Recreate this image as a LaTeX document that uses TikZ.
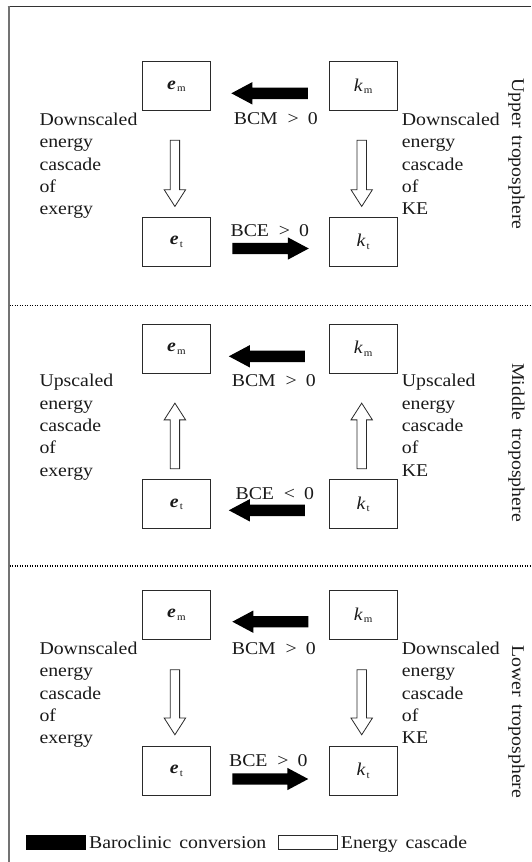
\documentclass[tikz,border=0pt]{standalone}
\usepackage{fontspec}
\setmainfont{Liberation Serif}[FakeStretch=1.1, WordSpace=1.6]
\usetikzlibrary{calc}
\definecolor{boxc}{HTML}{2A2A2A}
\definecolor{txtc}{HTML}{1A1A1A}
\newcommand\blackarrow[2]{%
  \fill[black] let \p1=#1, \p2=#2, \n1={ifthenelse(\x2>\x1,1,-1)} in
   (\x1,{\y1+5.7pt}) -- ({\x2-(\n1)*21pt},{\y1+5.7pt}) -- ({\x2-(\n1)*21pt},{\y1+11.2pt})
   -- (\x2,\y1) -- ({\x2-(\n1)*21pt},{\y1-11.2pt}) -- ({\x2-(\n1)*21pt},{\y1-5.7pt})
   -- (\x1,{\y1-5.7pt}) -- cycle;}
\newcommand\whitearrow[2]{%
  \draw[boxc, fill=white, line width=0.8pt, line join=miter] let \p1=#1, \p2=#2, \n1={ifthenelse(\y2>\y1,1,-1)} in
   ({\x1-4.7pt},\y1) -- ({\x1-4.7pt},{\y2-(\n1)*16.7pt}) -- ({\x1-10.7pt},{\y2-(\n1)*16.7pt})
   -- (\x1,\y2) -- ({\x1+10.7pt},{\y2-(\n1)*16.7pt}) -- ({\x1+4.7pt},{\y2-(\n1)*16.7pt})
   -- ({\x1+4.7pt},\y1) -- cycle;}
\newcommand\esym[1]{\textbf{\textit{e}}\hspace{1pt}\raisebox{-2.5pt}{\fontsize{10}{10}\selectfont #1}}
\newcommand\ksym[1]{\textit{k}\hspace{1pt}\raisebox{-2.5pt}{\fontsize{10}{10}\selectfont #1}}
\begin{document}
\begin{tikzpicture}[x=1pt, y=-1pt,
  every node/.style={text=txtc, font=\fontsize{18}{22.3}\selectfont},
  box/.style={draw=boxc, line width=0.9pt, minimum width=68pt, minimum height=49pt, inner sep=0pt},
  side/.style={anchor=north west, align=left, inner sep=0pt},
  lbl/.style={anchor=base, inner sep=0pt},
  layer/.style={rotate=-90, inner sep=0pt},
  sep/.style={line width=1.5pt, dash pattern=on 1.4pt off 1.1pt, black}]
\useasboundingbox (0,0) rectangle (531,862);
\draw[line width=1.5pt, black!80] (7.5,6.7) -- (531,6.7);
\draw[line width=2pt, black!55] (8.5,6) -- (8.5,862);
\draw[sep] (9.5,305.3) -- (531,305.3);
\draw[sep] (9.5,566) -- (531,566);

% ---------- Upper troposphere ----------
\node[box] (em1) at (176.4,86.3) {\esym{m}};
\node[box] (km1) at (363.2,86.3) {\ksym{m}};
\node[box] (et1) at (176.4,242) {\esym{t}};
\node[box] (kt1) at (363.2,242) {\ksym{t}};
\blackarrow{($(km1.west)+(-21,7)$)}{($(em1.east)+(20.5,7)$)}
\blackarrow{($(et1.east)+(21.5,6.5)$)}{($(kt1.west)+(-20,6.5)$)}
\whitearrow{($(em1.south)+(-1.5,29)$)}{($(et1.north)+(-1.5,-10.6)$)}
\whitearrow{($(km1.south)+(-1.5,29)$)}{($(kt1.north)+(-1.5,-10.6)$)}
\node[lbl] (bcm1) at ($(em1.south)!0.5!(km1.south)+(6,13.5)$) {BCM\hspace{0.55em}>\hspace{0.5em}0};
\node[lbl] (bce1) at ($(et1.east)!0.5!(kt1.west)+(0,-5.5)$) {BCE\hspace{0.55em}>\hspace{0.5em}0};
\node[side] (lt1) at ($(em1.south west)+(-102.6,1.7)$) {Downscaled\\energy\\cascade\\of\\exergy};
\node[side] (rt1) at ($(km1.south east)+(4,1.7)$) {Downscaled\\energy\\cascade\\of\\KE};
\node[layer] (up) at (516.4,154) {Upper troposphere};

% ---------- Middle troposphere ----------
\node[box] (em2) at (176.4,348.8) {\esym{m}};
\node[box] (km2) at (363.2,348.8) {\ksym{m}};
\node[box] (et2) at (176.4,504.3) {\esym{t}};
\node[box] (kt2) at (363.2,504.3) {\ksym{t}};
\blackarrow{($(km2.west)+(-24,7.5)$)}{($(em2.east)+(18,7.5)$)}
\blackarrow{($(kt2.west)+(-24,6)$)}{($(et2.east)+(18,6)$)}
\whitearrow{($(et2.north)+(-1.5,-10.7)$)}{($(em2.south)+(-1.5,29.4)$)}
\whitearrow{($(kt2.north)+(-1.5,-10.7)$)}{($(km2.south)+(-1.5,29.4)$)}
\node[lbl] (bcm2) at ($(em2.south)!0.5!(km2.south)+(4,12.7)$) {BCM\hspace{0.55em}>\hspace{0.5em}0};
\node[lbl] (bce2) at ($(et2.east)!0.5!(kt2.west)+(5,-5.3)$) {BCE\hspace{0.55em}<\hspace{0.5em}0};
\node[side] (lt2) at ($(em2.south west)+(-102.6,0.4)$) {Upscaled\\energy\\cascade\\of\\exergy};
\node[side] (rt2) at ($(km2.south east)+(4,0.4)$) {Upscaled\\energy\\cascade\\of\\KE};
\node[layer] (mid) at (516.4,442.5) {Middle troposphere};

% ---------- Lower troposphere ----------
\node[box] (em3) at (176.4,615) {\esym{m}};
\node[box] (km3) at (363.2,615) {\ksym{m}};
\node[box] (et3) at (176.4,770.7) {\esym{t}};
\node[box] (kt3) at (363.2,770.7) {\ksym{t}};
\blackarrow{($(km3.west)+(-20.5,6.7)$)}{($(em3.east)+(21.5,6.7)$)}
\blackarrow{($(et3.east)+(21.5,8.3)$)}{($(kt3.west)+(-20.5,8.3)$)}
\whitearrow{($(em3.south)+(-1.5,29.7)$)}{($(et3.north)+(-1.5,-11)$)}
\whitearrow{($(km3.south)+(-1.5,29.7)$)}{($(kt3.north)+(-1.5,-11)$)}
\node[lbl] (bcm3) at ($(em3.south)!0.5!(km3.south)+(4,14.2)$) {BCM\hspace{0.55em}>\hspace{0.5em}0};
\node[lbl] (bce3) at ($(et3.east)!0.5!(kt3.west)+(-1.5,-4.7)$) {BCE\hspace{0.55em}>\hspace{0.5em}0};
\node[side] (lt3) at ($(em3.south west)+(-102.6,1.9)$) {Downscaled\\energy\\cascade\\of\\exergy};
\node[side] (rt3) at ($(km3.south east)+(4,1.9)$) {Downscaled\\energy\\cascade\\of\\KE};
\node[layer] (low) at (516.4,721.7) {Lower troposphere};

% ---------- Legend ----------
\node[draw=black, fill=black, minimum width=59.3pt, minimum height=14.3pt, inner sep=0pt] (lgb) at (56,842.2) {};
\node[anchor=base west, inner sep=0pt] (lgbt) at ($(lgb.east)+(3,6.1)$) {Baroclinic conversion};
\node[draw=boxc, fill=white, line width=0.8pt, minimum width=59.2pt, minimum height=14.3pt, inner sep=0pt] (lgw) at (308,842.2) {};
\node[anchor=base west, inner sep=0pt] (lgwt) at ($(lgw.east)+(2.7,6.1)$) {Energy cascade};
\end{tikzpicture}
\end{document}
